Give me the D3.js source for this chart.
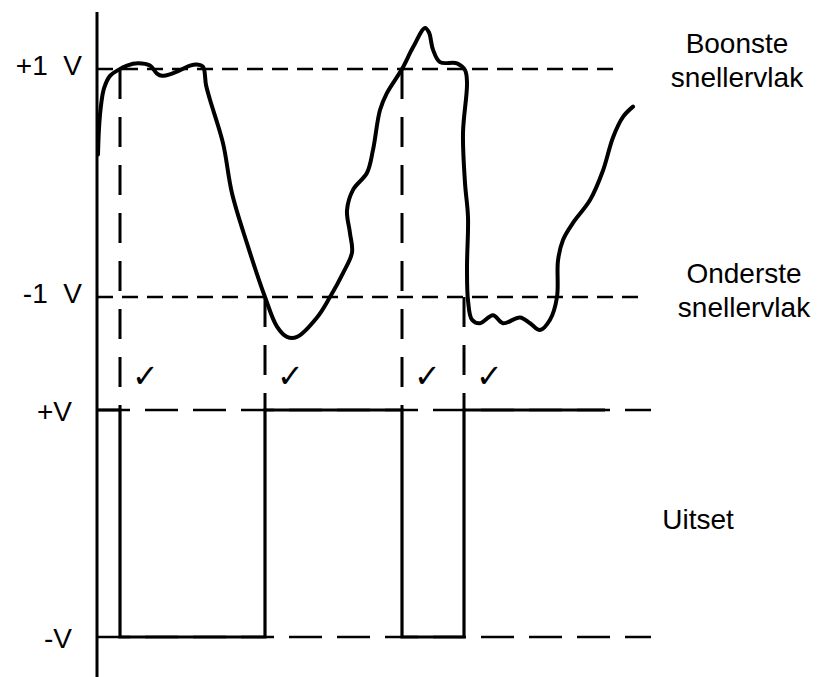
<!DOCTYPE html>
<html>
<head>
<meta charset="utf-8">
<script src="https://cdn.jsdelivr.net/npm/d3@7"></script>
<style>
  html, body { margin: 0; padding: 0; background: #fff; }
  svg { display: block; }
  .lbl { font-family: 'Liberation Sans', Arial, sans-serif; font-size: 28px; fill: #000; white-space: pre; }
  .tick-mark { font-family: 'DejaVu Sans', sans-serif; font-size: 32px; font-weight: bold; fill: #000; }
</style>
</head>
<body>
<svg id="chart" width="822" height="677"></svg>
<script>
// Input signal: [time unit, volts]
const inputSignal = [
  [0.02, 0.25], [0.04, 0.48], [0.08, 0.68], [0.14, 0.83], [0.26, 0.94], [0.42, 0.99],
  [0.60, 1.03], [0.82, 1.05], [1.06, 1.03], [1.20, 0.96], [1.30, 0.94], [1.56, 0.97],
  [1.86, 1.03], [2.00, 1.04], [2.12, 1.02], [2.18, 0.86], [2.26, 0.73], [2.52, 0.35],
  [2.70, -0.09], [3.00, -0.53], [3.36, -1.00], [3.60, -1.26], [3.80, -1.35], [4.00, -1.35],
  [4.40, -1.18], [4.66, -1.00], [4.92, -0.79], [5.10, -0.61], [5.06, -0.44], [5.00, -0.24],
  [5.12, -0.06], [5.40, 0.09], [5.52, 0.29], [5.66, 0.64], [5.80, 0.79], [6.10, 1.00],
  [6.32, 1.19], [6.56, 1.36], [6.64, 1.32], [6.72, 1.17], [6.86, 1.06], [7.20, 1.05],
  [7.36, 0.99], [7.40, 0.88], [7.32, 0.44], [7.36, 0.00], [7.42, -0.30], [7.40, -0.74],
  [7.42, -1.03], [7.50, -1.20], [7.66, -1.23], [7.92, -1.16], [8.12, -1.23], [8.46, -1.18],
  [8.66, -1.23], [8.86, -1.29], [9.06, -1.20], [9.20, -1.00], [9.22, -0.68], [9.32, -0.50],
  [9.52, -0.35], [9.86, -0.15], [10.12, 0.11], [10.32, 0.40], [10.52, 0.58], [10.72, 0.67],
];

// Where the input crosses a threshold: [time, threshold level]
const crossings = [[0.46, 1], [3.36, -1], [6.10, 1], [7.34, -1]];

// Output (Schmitt trigger) levels: [time, level]
const outputSignal = [[0, 1], [0.46, -1], [3.36, 1], [6.10, -1], [7.34, 1], [10.16, 1]];

// Threshold lines: [level, end time]
const thresholds = [[1, 10.5], [-1, 10.96]];
const outputLevels = [[1, 11.08], [-1, 11.08]];

const inputTicks = [1, -1];
const inputTickLabels = ['+1  V', '-1  V'];
const outputTicks = [1, -1];
const outputTickLabels = ['+V', '-V'];

const upperLabel = ['Boonste', 'snellervlak'];
const lowerLabel = ['Onderste', 'snellervlak'];
const outputLabel = 'Uitset';

const svg = d3.select('#chart');

const x = d3.scaleLinear().domain([0, 11]).range([97, 647]);
const yIn = d3.scaleLinear().domain([-1, 1]).range([297, 69]);
const yOut = d3.scaleLinear().domain([-1, 1]).range([637, 410]);

// Vertical axis
svg.append('line')
  .attr('x1', x(0)).attr('x2', x(0))
  .attr('y1', 12).attr('y2', 677)
  .attr('stroke', '#000')
  .attr('stroke-width', 3);

// Tick labels through d3 axes (no domain, no tick lines)
const labelAxis = (scale, values, labels, pad) => d3.axisLeft(scale)
  .tickValues(values)
  .tickSize(0)
  .tickPadding(pad)
  .tickFormat((d, i) => labels[i]);

[[yIn, inputTicks, inputTickLabels, 15, '0.2em'], [yOut, outputTicks, outputTickLabels, 25, '0.38em']]
  .forEach(([scale, values, labels, pad, dy]) => {
    const g = svg.append('g')
      .attr('transform', `translate(${x(0)},0)`)
      .call(labelAxis(scale, values, labels, pad));
    g.select('.domain').remove();
    g.selectAll('text')
      .attr('class', 'lbl')
      .attr('font-family', null)
      .attr('font-size', null)
      .attr('dy', dy);
  });

// Threshold dashed lines
svg.selectAll('.thresh')
  .data(thresholds)
  .join('line')
    .attr('class', 'thresh')
    .attr('x1', x(0)).attr('x2', (d) => x(d[1]))
    .attr('y1', (d) => yIn(d[0])).attr('y2', (d) => yIn(d[0]))
    .attr('stroke', '#000')
    .attr('stroke-width', 2.5)
    .attr('stroke-dasharray', '16,9');

// Output level dashed lines
svg.selectAll('.outlvl')
  .data(outputLevels)
  .join('line')
    .attr('class', 'outlvl')
    .attr('x1', x(0)).attr('x2', (d) => x(d[1]))
    .attr('y1', (d) => yOut(d[0])).attr('y2', (d) => yOut(d[0]))
    .attr('stroke', '#000')
    .attr('stroke-width', 2.5)
    .attr('stroke-dasharray', '33,15');

// Dashed drop lines from each crossing to the output
svg.selectAll('.drop')
  .data(crossings)
  .join('line')
    .attr('class', 'drop')
    .attr('x1', (d) => x(d[0])).attr('x2', (d) => x(d[0]))
    .attr('y1', (d) => yIn(d[1])).attr('y2', yOut(1))
    .attr('stroke', '#000')
    .attr('stroke-width', 3)
    .attr('stroke-dasharray', '30,18');

// Tick marks (checks) beside each drop line
svg.selectAll('.tick-mark')
  .data(crossings)
  .join('text')
    .attr('class', 'tick-mark')
    .attr('x', (d) => x(d[0]) + 12)
    .attr('y', yOut(1) - 23)
    .text('\u2713');

// Output square wave
svg.append('path')
  .datum(outputSignal)
  .attr('fill', 'none')
  .attr('stroke', '#000')
  .attr('stroke-width', 3.2)
  .attr('d', d3.line()
    .x((d) => x(d[0]))
    .y((d) => yOut(d[1]))
    .curve(d3.curveStepAfter));

// Input signal
svg.append('path')
  .datum(inputSignal)
  .attr('fill', 'none')
  .attr('stroke', '#000')
  .attr('stroke-width', 4)
  .attr('stroke-linejoin', 'round')
  .attr('stroke-linecap', 'round')
  .attr('d', d3.line()
    .x((d) => x(d[0]))
    .y((d) => yIn(d[1]))
    .curve(d3.curveCatmullRom.alpha(0.5)));

// Right-hand labels
const addLabel = (lines, cx, baseY) => {
  svg.append('text')
    .attr('class', 'lbl')
    .attr('text-anchor', 'middle')
    .selectAll('tspan')
    .data(lines)
    .join('tspan')
      .attr('x', cx)
      .attr('y', (d, i) => baseY + i * 34)
      .text((d) => d);
};

addLabel(upperLabel, 737, yIn(1) - 16);
addLabel(lowerLabel, 744, yIn(-1) - 14);
addLabel([outputLabel], 698, (yOut(1) + yOut(-1)) / 2 + 5);
</script>
</body>
</html>
